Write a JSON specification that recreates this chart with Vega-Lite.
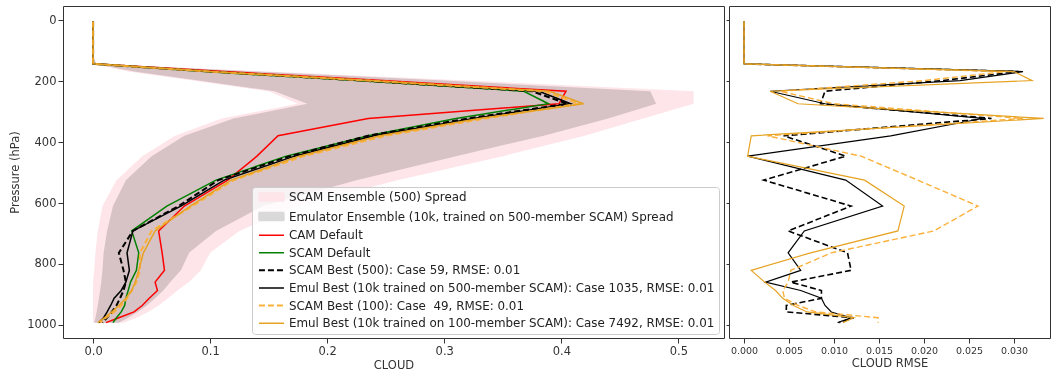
{
"$schema": "https://vega.github.io/schema/vega-lite/v6.json",
"padding": {"left": 9, "top": 5, "right": 0, "bottom": 0},
"background": "white",
"spacing": 0,
"config": {
  "font": "DejaVu Sans",
  "view": {"stroke": "#333333", "strokeWidth": 1},
  "axis": {"grid": false, "domain": false, "tickColor": "#333333", "tickSize": 5, "labelColor": "#333333", "titleColor": "#333333", "labelFont": "DejaVu Sans", "titleFont": "DejaVu Sans", "titleFontWeight": "normal", "labelFontSize": 11.5, "titleFontSize": 11.5, "labelPadding": 2}
},
"resolve": {"scale": {"color": "independent", "y": "independent", "x": "independent"}, "legend": {"color": "independent"}},
"datasets": {
"bands": [
{"s":"ens","p":3.64,"lo":0,"hi":0},{"s":"ens","p":7.59,"lo":0,"hi":0},{"s":"ens","p":14.36,"lo":0,"hi":0},{"s":"ens","p":24.61,"lo":0,"hi":0},{"s":"ens","p":38.27,"lo":0,"hi":0},{"s":"ens","p":54.6,"lo":0,"hi":0},{"s":"ens","p":72.01,"lo":0,"hi":0},{"s":"ens","p":87.82,"lo":0,"hi":0},{"s":"ens","p":103.32,"lo":0,"hi":0},{"s":"ens","p":121.55,"lo":0,"hi":0},{"s":"ens","p":142.99,"lo":0,"hi":0.003},
{"s":"ens","p":168.23,"lo":0.03,"hi":0.15},{"s":"ens","p":197.91,"lo":0.085,"hi":0.32},{"s":"ens","p":232.83,"lo":0.15,"hi":0.513},{"s":"ens","p":273.91,"lo":0.175,"hi":0.513},{"s":"ens","p":322.24,"lo":0.11,"hi":0.47},{"s":"ens","p":379.1,"lo":0.07,"hi":0.42},{"s":"ens","p":445.99,"lo":0.042,"hi":0.35},{"s":"ens","p":524.69,"lo":0.02,"hi":0.26},{"s":"ens","p":609.78,"lo":0.008,"hi":0.175},{"s":"ens","p":691.39,"lo":0.004,"hi":0.125},{"s":"ens","p":763.4,"lo":0.002,"hi":0.1},{"s":"ens","p":820.86,"lo":0.001,"hi":0.092},{"s":"ens","p":859.53,"lo":0,"hi":0.082},{"s":"ens","p":887.02,"lo":0,"hi":0.072},{"s":"ens","p":912.64,"lo":0,"hi":0.064},{"s":"ens","p":936.2,"lo":0,"hi":0.056},{"s":"ens","p":957.49,"lo":0,"hi":0.047},{"s":"ens","p":976.33,"lo":0,"hi":0.037},{"s":"ens","p":992.56,"lo":0,"hi":0.026},
{"s":"emu","p":3.64,"lo":0,"hi":0},{"s":"emu","p":7.59,"lo":0,"hi":0},{"s":"emu","p":14.36,"lo":0,"hi":0},{"s":"emu","p":24.61,"lo":0,"hi":0},{"s":"emu","p":38.27,"lo":0,"hi":0},{"s":"emu","p":54.6,"lo":0,"hi":0},{"s":"emu","p":72.01,"lo":0,"hi":0},{"s":"emu","p":87.82,"lo":0,"hi":0},{"s":"emu","p":103.32,"lo":0,"hi":0},{"s":"emu","p":121.55,"lo":0,"hi":0},{"s":"emu","p":142.99,"lo":0,"hi":0.003},
{"s":"emu","p":168.23,"lo":0.035,"hi":0.14},{"s":"emu","p":197.91,"lo":0.09,"hi":0.3},{"s":"emu","p":232.83,"lo":0.155,"hi":0.476},{"s":"emu","p":273.91,"lo":0.183,"hi":0.481},{"s":"emu","p":322.24,"lo":0.12,"hi":0.44},{"s":"emu","p":379.1,"lo":0.078,"hi":0.385},{"s":"emu","p":445.99,"lo":0.05,"hi":0.31},{"s":"emu","p":524.69,"lo":0.028,"hi":0.225},{"s":"emu","p":609.78,"lo":0.017,"hi":0.145},{"s":"emu","p":691.39,"lo":0.012,"hi":0.105},{"s":"emu","p":763.4,"lo":0.009,"hi":0.082},{"s":"emu","p":820.86,"lo":0.008,"hi":0.075},{"s":"emu","p":859.53,"lo":0.007,"hi":0.066},{"s":"emu","p":887.02,"lo":0.006,"hi":0.06},{"s":"emu","p":912.64,"lo":0.005,"hi":0.053},{"s":"emu","p":936.2,"lo":0.004,"hi":0.046},{"s":"emu","p":957.49,"lo":0.003,"hi":0.038},{"s":"emu","p":976.33,"lo":0.002,"hi":0.03},{"s":"emu","p":992.56,"lo":0.001,"hi":0.022}
],
"profiles": [
{"s":"cam","p":3.64,"v":0},{"s":"cam","p":7.59,"v":0},{"s":"cam","p":14.36,"v":0},{"s":"cam","p":24.61,"v":0},{"s":"cam","p":38.27,"v":0},{"s":"cam","p":54.6,"v":0},{"s":"cam","p":72.01,"v":0},{"s":"cam","p":87.82,"v":0},{"s":"cam","p":103.32,"v":0},{"s":"cam","p":121.55,"v":0},{"s":"cam","p":142.99,"v":0},
{"s":"cam","p":168.23,"v":0.112},{"s":"cam","p":197.91,"v":0.247},{"s":"cam","p":232.83,"v":0.404},{"s":"cam","p":273.91,"v":0.398},{"s":"cam","p":322.24,"v":0.235},{"s":"cam","p":379.1,"v":0.158},{"s":"cam","p":445.99,"v":0.14},{"s":"cam","p":524.69,"v":0.115},{"s":"cam","p":609.78,"v":0.078},{"s":"cam","p":691.39,"v":0.056},{"s":"cam","p":763.4,"v":0.059},{"s":"cam","p":820.86,"v":0.061},{"s":"cam","p":859.53,"v":0.053},{"s":"cam","p":887.02,"v":0.055},{"s":"cam","p":912.64,"v":0.048},{"s":"cam","p":936.2,"v":0.042},{"s":"cam","p":957.49,"v":0.035},{"s":"cam","p":976.33,"v":0.022},{"s":"cam","p":992.56,"v":0.011},
{"s":"sdef","p":3.64,"v":0},{"s":"sdef","p":7.59,"v":0},{"s":"sdef","p":14.36,"v":0},{"s":"sdef","p":24.61,"v":0},{"s":"sdef","p":38.27,"v":0},{"s":"sdef","p":54.6,"v":0},{"s":"sdef","p":72.01,"v":0},{"s":"sdef","p":87.82,"v":0},{"s":"sdef","p":103.32,"v":0},{"s":"sdef","p":121.55,"v":0},{"s":"sdef","p":142.99,"v":0},
{"s":"sdef","p":168.23,"v":0.095},{"s":"sdef","p":197.91,"v":0.225},{"s":"sdef","p":232.83,"v":0.368},{"s":"sdef","p":273.91,"v":0.389},{"s":"sdef","p":322.24,"v":0.31},{"s":"sdef","p":379.1,"v":0.235},{"s":"sdef","p":445.99,"v":0.165},{"s":"sdef","p":524.69,"v":0.105},{"s":"sdef","p":609.78,"v":0.063},{"s":"sdef","p":691.39,"v":0.033},{"s":"sdef","p":763.4,"v":0.039},{"s":"sdef","p":820.86,"v":0.037},{"s":"sdef","p":859.53,"v":0.032},{"s":"sdef","p":887.02,"v":0.03},{"s":"sdef","p":912.64,"v":0.028},{"s":"sdef","p":936.2,"v":0.027},{"s":"sdef","p":957.49,"v":0.024},{"s":"sdef","p":976.33,"v":0.02},{"s":"sdef","p":992.56,"v":0.017},
{"s":"s500","p":3.64,"v":0},{"s":"s500","p":7.59,"v":0},{"s":"s500","p":14.36,"v":0},{"s":"s500","p":24.61,"v":0},{"s":"s500","p":38.27,"v":0},{"s":"s500","p":54.6,"v":0},{"s":"s500","p":72.01,"v":0},{"s":"s500","p":87.82,"v":0},{"s":"s500","p":103.32,"v":0},{"s":"s500","p":121.55,"v":0},{"s":"s500","p":142.99,"v":0},
{"s":"s500","p":168.23,"v":0.1},{"s":"s500","p":197.91,"v":0.23},{"s":"s500","p":232.83,"v":0.375},{"s":"s500","p":273.91,"v":0.405},{"s":"s500","p":322.24,"v":0.32},{"s":"s500","p":379.1,"v":0.235},{"s":"s500","p":445.99,"v":0.168},{"s":"s500","p":524.69,"v":0.107},{"s":"s500","p":609.78,"v":0.073},{"s":"s500","p":691.39,"v":0.034},{"s":"s500","p":763.4,"v":0.022},{"s":"s500","p":820.86,"v":0.026},{"s":"s500","p":859.53,"v":0.028},{"s":"s500","p":887.02,"v":0.026},{"s":"s500","p":912.64,"v":0.023},{"s":"s500","p":936.2,"v":0.02},{"s":"s500","p":957.49,"v":0.016},{"s":"s500","p":976.33,"v":0.012},{"s":"s500","p":992.56,"v":0.008},
{"s":"e500","p":3.64,"v":0},{"s":"e500","p":7.59,"v":0},{"s":"e500","p":14.36,"v":0},{"s":"e500","p":24.61,"v":0},{"s":"e500","p":38.27,"v":0},{"s":"e500","p":54.6,"v":0},{"s":"e500","p":72.01,"v":0},{"s":"e500","p":87.82,"v":0},{"s":"e500","p":103.32,"v":0},{"s":"e500","p":121.55,"v":0},{"s":"e500","p":142.99,"v":0},
{"s":"e500","p":168.23,"v":0.1},{"s":"e500","p":197.91,"v":0.232},{"s":"e500","p":232.83,"v":0.381},{"s":"e500","p":273.91,"v":0.408},{"s":"e500","p":322.24,"v":0.325},{"s":"e500","p":379.1,"v":0.24},{"s":"e500","p":445.99,"v":0.172},{"s":"e500","p":524.69,"v":0.112},{"s":"e500","p":609.78,"v":0.075},{"s":"e500","p":691.39,"v":0.034},{"s":"e500","p":763.4,"v":0.029},{"s":"e500","p":820.86,"v":0.031},{"s":"e500","p":859.53,"v":0.028},{"s":"e500","p":887.02,"v":0.024},{"s":"e500","p":912.64,"v":0.018},{"s":"e500","p":936.2,"v":0.015},{"s":"e500","p":957.49,"v":0.012},{"s":"e500","p":976.33,"v":0.009},{"s":"e500","p":992.56,"v":0.005},
{"s":"s100","p":3.64,"v":0},{"s":"s100","p":7.59,"v":0},{"s":"s100","p":14.36,"v":0},{"s":"s100","p":24.61,"v":0},{"s":"s100","p":38.27,"v":0},{"s":"s100","p":54.6,"v":0},{"s":"s100","p":72.01,"v":0},{"s":"s100","p":87.82,"v":0},{"s":"s100","p":103.32,"v":0},{"s":"s100","p":121.55,"v":0},{"s":"s100","p":142.99,"v":0},
{"s":"s100","p":168.23,"v":0.1},{"s":"s100","p":197.91,"v":0.235},{"s":"s100","p":232.83,"v":0.385},{"s":"s100","p":273.91,"v":0.415},{"s":"s100","p":322.24,"v":0.335},{"s":"s100","p":379.1,"v":0.25},{"s":"s100","p":445.99,"v":0.18},{"s":"s100","p":524.69,"v":0.12},{"s":"s100","p":609.78,"v":0.085},{"s":"s100","p":691.39,"v":0.05},{"s":"s100","p":763.4,"v":0.04},{"s":"s100","p":820.86,"v":0.04},{"s":"s100","p":859.53,"v":0.037},{"s":"s100","p":887.02,"v":0.033},{"s":"s100","p":912.64,"v":0.029},{"s":"s100","p":936.2,"v":0.024},{"s":"s100","p":957.49,"v":0.018},{"s":"s100","p":976.33,"v":0.011},{"s":"s100","p":992.56,"v":0.006},
{"s":"e100","p":3.64,"v":0},{"s":"e100","p":7.59,"v":0},{"s":"e100","p":14.36,"v":0},{"s":"e100","p":24.61,"v":0},{"s":"e100","p":38.27,"v":0},{"s":"e100","p":54.6,"v":0},{"s":"e100","p":72.01,"v":0},{"s":"e100","p":87.82,"v":0},{"s":"e100","p":103.32,"v":0},{"s":"e100","p":121.55,"v":0},{"s":"e100","p":142.99,"v":0},
{"s":"e100","p":168.23,"v":0.1},{"s":"e100","p":197.91,"v":0.235},{"s":"e100","p":232.83,"v":0.39},{"s":"e100","p":273.91,"v":0.419},{"s":"e100","p":322.24,"v":0.33},{"s":"e100","p":379.1,"v":0.245},{"s":"e100","p":445.99,"v":0.176},{"s":"e100","p":524.69,"v":0.118},{"s":"e100","p":609.78,"v":0.083},{"s":"e100","p":691.39,"v":0.053},{"s":"e100","p":763.4,"v":0.043},{"s":"e100","p":820.86,"v":0.039},{"s":"e100","p":859.53,"v":0.036},{"s":"e100","p":887.02,"v":0.033},{"s":"e100","p":912.64,"v":0.028},{"s":"e100","p":936.2,"v":0.022},{"s":"e100","p":957.49,"v":0.016},{"s":"e100","p":976.33,"v":0.01},{"s":"e100","p":992.56,"v":0.004}
],
"rmse": [
{"s":"s500","p":3.64,"v":0},{"s":"s500","p":7.59,"v":0},{"s":"s500","p":14.36,"v":0},{"s":"s500","p":24.61,"v":0},{"s":"s500","p":38.27,"v":0},{"s":"s500","p":54.6,"v":0},{"s":"s500","p":72.01,"v":0},{"s":"s500","p":87.82,"v":0},{"s":"s500","p":103.32,"v":0},{"s":"s500","p":121.55,"v":0},{"s":"s500","p":142.99,"v":0},
{"s":"s500","p":168.23,"v":0.0305},{"s":"s500","p":197.91,"v":0.022},{"s":"s500","p":232.83,"v":0.009},{"s":"s500","p":273.91,"v":0.0085},{"s":"s500","p":322.24,"v":0.0275},{"s":"s500","p":379.1,"v":0.0044},{"s":"s500","p":445.99,"v":0.0113},{"s":"s500","p":524.69,"v":0.0022},{"s":"s500","p":609.78,"v":0.0119},{"s":"s500","p":691.39,"v":0.0049},{"s":"s500","p":763.4,"v":0.0115},{"s":"s500","p":820.86,"v":0.0119},{"s":"s500","p":859.53,"v":0.0052},{"s":"s500","p":887.02,"v":0.0086},{"s":"s500","p":912.64,"v":0.0086},{"s":"s500","p":936.2,"v":0.0047},{"s":"s500","p":957.49,"v":0.0047},{"s":"s500","p":976.33,"v":0.0122},{"s":"s500","p":992.56,"v":0.0106},
{"s":"e500","p":3.64,"v":0},{"s":"e500","p":7.59,"v":0},{"s":"e500","p":14.36,"v":0},{"s":"e500","p":24.61,"v":0},{"s":"e500","p":38.27,"v":0},{"s":"e500","p":54.6,"v":0},{"s":"e500","p":72.01,"v":0},{"s":"e500","p":87.82,"v":0},{"s":"e500","p":103.32,"v":0},{"s":"e500","p":121.55,"v":0},{"s":"e500","p":142.99,"v":0},
{"s":"e500","p":168.23,"v":0.031},{"s":"e500","p":197.91,"v":0.024},{"s":"e500","p":232.83,"v":0.0029},{"s":"e500","p":273.91,"v":0.009},{"s":"e500","p":322.24,"v":0.0265},{"s":"e500","p":379.1,"v":0.0163},{"s":"e500","p":445.99,"v":0.0004},{"s":"e500","p":524.69,"v":0.0113},{"s":"e500","p":609.78,"v":0.0154},{"s":"e500","p":691.39,"v":0.0067},{"s":"e500","p":763.4,"v":0.0049},{"s":"e500","p":820.86,"v":0.0063},{"s":"e500","p":859.53,"v":0.0024},{"s":"e500","p":887.02,"v":0.0063},{"s":"e500","p":912.64,"v":0.0086},{"s":"e500","p":936.2,"v":0.009},{"s":"e500","p":957.49,"v":0.0097},{"s":"e500","p":976.33,"v":0.0119},{"s":"e500","p":992.56,"v":0.0104},
{"s":"s100","p":3.64,"v":0},{"s":"s100","p":7.59,"v":0},{"s":"s100","p":14.36,"v":0},{"s":"s100","p":24.61,"v":0},{"s":"s100","p":38.27,"v":0},{"s":"s100","p":54.6,"v":0},{"s":"s100","p":72.01,"v":0},{"s":"s100","p":87.82,"v":0},{"s":"s100","p":103.32,"v":0},{"s":"s100","p":121.55,"v":0},{"s":"s100","p":142.99,"v":0},
{"s":"s100","p":168.23,"v":0.029},{"s":"s100","p":197.91,"v":0.02},{"s":"s100","p":232.83,"v":0.004},{"s":"s100","p":273.91,"v":0.01},{"s":"s100","p":322.24,"v":0.031},{"s":"s100","p":379.1,"v":0.0026},{"s":"s100","p":445.99,"v":0.013},{"s":"s100","p":524.69,"v":0.0193},{"s":"s100","p":609.78,"v":0.026},{"s":"s100","p":691.39,"v":0.0211},{"s":"s100","p":763.4,"v":0.0097},{"s":"s100","p":820.86,"v":0.0052},{"s":"s100","p":859.53,"v":0.0049},{"s":"s100","p":887.02,"v":0.0043},{"s":"s100","p":912.64,"v":0.0045},{"s":"s100","p":936.2,"v":0.006},{"s":"s100","p":957.49,"v":0.008},{"s":"s100","p":976.33,"v":0.0149},{"s":"s100","p":992.56,"v":0.0149},
{"s":"e100","p":3.64,"v":0},{"s":"e100","p":7.59,"v":0},{"s":"e100","p":14.36,"v":0},{"s":"e100","p":24.61,"v":0},{"s":"e100","p":38.27,"v":0},{"s":"e100","p":54.6,"v":0},{"s":"e100","p":72.01,"v":0},{"s":"e100","p":87.82,"v":0},{"s":"e100","p":103.32,"v":0},{"s":"e100","p":121.55,"v":0},{"s":"e100","p":142.99,"v":0},
{"s":"e100","p":168.23,"v":0.03},{"s":"e100","p":197.91,"v":0.032},{"s":"e100","p":232.83,"v":0.0029},{"s":"e100","p":273.91,"v":0.006},{"s":"e100","p":322.24,"v":0.0333},{"s":"e100","p":379.1,"v":0.0008},{"s":"e100","p":445.99,"v":0.0004},{"s":"e100","p":524.69,"v":0.0134},{"s":"e100","p":609.78,"v":0.0178},{"s":"e100","p":691.39,"v":0.0171},{"s":"e100","p":763.4,"v":0.0074},{"s":"e100","p":820.86,"v":0.0008},{"s":"e100","p":859.53,"v":0.0023},{"s":"e100","p":887.02,"v":0.0035},{"s":"e100","p":912.64,"v":0.0043},{"s":"e100","p":936.2,"v":0.0055},{"s":"e100","p":957.49,"v":0.007},{"s":"e100","p":976.33,"v":0.0122},{"s":"e100","p":992.56,"v":0.011}
]
},
"hconcat": [
{
  "width": 661, "height": 332,
  "data": {"name": "profiles"},
  "encoding": {
    "y": {"field": "p", "type": "quantitative", "scale": {"domain": [-47, 1043], "reverse": true, "nice": false, "zero": false}, "axis": {"values": [0, 200, 400, 600, 800, 1000], "format": "d", "title": "Pressure (hPa)", "titlePadding": 6}}
  },
  "layer": [
    {
      "data": {"name": "bands"},
      "transform": [{"filter": "datum.s == 'ens'"}],
      "mark": {"type": "area", "orient": "horizontal"},
      "encoding": {
        "x": {"field": "lo", "type": "quantitative", "scale": {"domain": [-0.0257, 0.539], "nice": false, "zero": false}, "axis": {"values": [0, 0.1, 0.2, 0.3, 0.4, 0.5], "format": ".1f", "title": "CLOUD", "titlePadding": 3}},
        "x2": {"field": "hi"},
        "color": {"field": "s", "type": "nominal",
          "scale": {"domain": ["ens", "emu", "cam", "sdef", "s500", "e500", "s100", "e100"], "range": ["#fde5e9", "#d9d9d9", "#ff0000", "#008000", "#000000", "#000000", "#fbb13c", "#e6a323"]},
          "legend": {
            "orient": "none", "legendX": 189, "legendY": 181, "title": null,
            "padding": 4, "rowPadding": 4.6, "labelFontSize": 11.9, "labelFont": "DejaVu Sans", "labelColor": "#222222", "labelOffset": 21, "labelLimit": 0,
            "fillColor": "rgba(255,255,255,0.8)", "strokeColor": "#cccccc", "cornerRadius": 3, "symbolSize": 16, "symbolType": "stroke",
            "labelExpr": "datum.value=='ens'?'SCAM Ensemble (500) Spread':datum.value=='emu'?'Emulator Ensemble (10k, trained on 500-member SCAM) Spread':datum.value=='cam'?'CAM Default':datum.value=='sdef'?'SCAM Default':datum.value=='s500'?'SCAM Best (500): Case 59, RMSE: 0.01':datum.value=='e500'?'Emul Best (10k trained on 500-member SCAM): Case 1035, RMSE: 0.01':datum.value=='s100'?'SCAM Best (100): Case\u00a0 49, RMSE: 0.01':'Emul Best (10k trained on 100-member SCAM): Case 7492, RMSE: 0.01'",
            "encode": {"symbols": {"update": {
              "shape": {"signal": "datum.value=='ens'||datum.value=='emu' ? 'M-1.5,-2H11V2H-1.5Z' : 'M-1.5,0H11'"},
              "stroke": {"signal": "datum.value=='cam'?'#ff0000':datum.value=='sdef'?'#008000':datum.value=='s500'||datum.value=='e500'?'#000000':datum.value=='s100'?'#fbb13c':datum.value=='e100'?'#e6a323':'transparent'"},
              "strokeDash": {"signal": "datum.value=='s500'||datum.value=='s100'?[6,3]:[1,0]"},
              "strokeWidth": {"signal": "datum.value=='s500'||datum.value=='s100'?2:1.5"},
              "opacity": {"value": 1}, "fillOpacity": {"value": 1}, "strokeOpacity": {"value": 1}
            }}}
          }
        }
      }
    },
    {
      "data": {"name": "bands"},
      "transform": [{"filter": "datum.s == 'emu'"}],
      "mark": {"type": "area", "orient": "horizontal", "blend": "multiply"},
      "encoding": {"x": {"field": "lo", "type": "quantitative"}, "x2": {"field": "hi"}, "color": {"field": "s", "type": "nominal"}}
    },
    {
      "transform": [{"filter": "datum.s == 'cam' || datum.s == 'sdef'"}],
      "mark": {"type": "line", "strokeWidth": 1.5},
      "encoding": {"x": {"field": "v", "type": "quantitative"}, "color": {"field": "s", "type": "nominal"}, "order": {"field": "p", "type": "quantitative"}}
    },
    {
      "transform": [{"filter": "datum.s == 's500'"}],
      "mark": {"type": "line", "strokeWidth": 2, "strokeDash": [6, 3]},
      "encoding": {"x": {"field": "v", "type": "quantitative"}, "color": {"field": "s", "type": "nominal"}, "order": {"field": "p", "type": "quantitative"}}
    },
    {
      "transform": [{"filter": "datum.s == 'e500'"}],
      "mark": {"type": "line", "strokeWidth": 1.5},
      "encoding": {"x": {"field": "v", "type": "quantitative"}, "color": {"field": "s", "type": "nominal"}, "order": {"field": "p", "type": "quantitative"}}
    },
    {
      "transform": [{"filter": "datum.s == 's100'"}],
      "mark": {"type": "line", "strokeWidth": 2, "strokeDash": [6, 3]},
      "encoding": {"x": {"field": "v", "type": "quantitative"}, "color": {"field": "s", "type": "nominal"}, "order": {"field": "p", "type": "quantitative"}}
    },
    {
      "transform": [{"filter": "datum.s == 'e100'"}],
      "mark": {"type": "line", "strokeWidth": 1.5},
      "encoding": {"x": {"field": "v", "type": "quantitative"}, "color": {"field": "s", "type": "nominal"}, "order": {"field": "p", "type": "quantitative"}}
    }
  ]
},
{
  "width": 321, "height": 332,
  "data": {"name": "rmse"},
  "encoding": {
    "y": {"field": "p", "type": "quantitative", "scale": {"domain": [-47, 1043], "reverse": true, "nice": false, "zero": false}, "axis": {"values": [0, 200, 400, 600, 800, 1000], "labels": false, "title": null, "tickSize": 3}},
    "x": {"field": "v", "type": "quantitative", "scale": {"domain": [-0.00167, 0.034], "nice": false, "zero": false}, "axis": {"values": [0, 0.005, 0.01, 0.015, 0.02, 0.025, 0.03], "format": ".3f", "title": "CLOUD RMSE", "titlePadding": 3, "labelFontSize": 9.5}},
    "color": {"field": "s", "type": "nominal", "scale": {"domain": ["s500", "e500", "s100", "e100"], "range": ["#000000", "#000000", "#fbb13c", "#e6a323"]}, "legend": null},
    "order": {"field": "p", "type": "quantitative"}
  },
  "layer": [
    {"transform": [{"filter": "datum.s == 's500'"}], "mark": {"type": "line", "strokeWidth": 1.6, "strokeDash": [6, 3]}},
    {"transform": [{"filter": "datum.s == 'e500'"}], "mark": {"type": "line", "strokeWidth": 1.2}},
    {"transform": [{"filter": "datum.s == 's100'"}], "mark": {"type": "line", "strokeWidth": 1.4, "strokeDash": [6, 3]}},
    {"transform": [{"filter": "datum.s == 'e100'"}], "mark": {"type": "line", "strokeWidth": 1.2}}
  ]
}
]
}
